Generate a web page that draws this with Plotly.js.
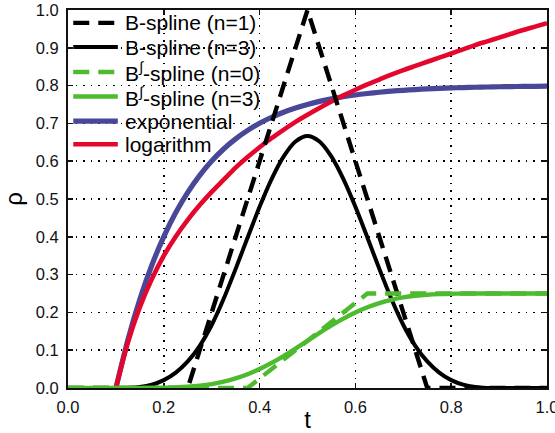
<!DOCTYPE html>
<html>
<head>
<meta charset="utf-8">
<script src="https://cdn.plot.ly/plotly-3.0.1.min.js"></script>
<style>html,body{margin:0;padding:0;background:#fff;}#chart{width:555px;height:433px;}</style>
</head>
<body>
<div id="chart"></div>
<script>
// ---- data ----
var t = [0,0.025,0.05,0.075,0.1,0.125,0.15,0.175,0.2,0.225,0.25,0.275,0.3,0.325,0.35,0.375,0.4,0.425,0.45,0.475,0.5,
         0.525,0.55,0.575,0.6,0.625,0.65,0.675,0.7,0.725,0.75,0.775,0.8,0.825,0.85,0.875,0.9,0.925,0.95,0.975,1.0];

var bSpline1 = [0,0,0,0,0,0,0,0,0,0,0,0.1,0.2,0.3,0.4,0.5,0.6,0.7,0.8,0.9,1.0,
                0.9,0.8,0.7,0.6,0.5,0.4,0.3,0.2,0.1,0,0,0,0,0,0,0,0,0,0,0];

var bSpline3 = [0,0,0,0,0,0.0003,0.0026,0.0088,0.0208,0.0407,0.0703,0.1117,0.1667,0.2361,0.3151,0.3982,0.4792,0.5525,0.612,0.652,0.6667,
                0.652,0.612,0.5525,0.4792,0.3982,0.3151,0.2361,0.1667,0.1117,0.0703,0.0407,0.0208,0.0088,0.0026,0.0003,0,0,0,0,0];

var biSpline0 = [0,0,0,0,0,0,0,0,0,0,0,0,0,0,0,0,0.025,0.05,0.075,0.1,0.125,
                 0.15,0.175,0.2,0.225,0.25,0.25,0.25,0.25,0.25,0.25,0.25,0.25,0.25,0.25,0.25,0.25,0.25,0.25,0.25,0.25];

var biSpline3 = [0,0,0,0,0,0,0,0.0002,0.0007,0.0016,0.0033,0.0061,0.0104,0.0167,0.0253,0.0364,0.0501,0.0663,0.0845,0.1043,0.125,
                 0.1457,0.1655,0.1837,0.1999,0.2136,0.2247,0.2333,0.2396,0.2439,0.2467,0.2484,0.2494,0.2498,0.25,0.25,0.25,0.25,0.25,0.25,0.25];

var exponential = [null,null,null,null,0,0.1275,0.2346,0.3247,0.4005,0.4642,0.5177,0.5627,0.6005,0.6323,0.659,0.6815,0.7004,0.7163,0.7296,0.7408,0.7502,
                   0.7582,0.7649,0.7705,0.7752,0.7791,0.7825,0.7853,0.7876,0.7896,0.7913,0.7926,0.7938,0.7948,0.7956,0.7963,0.7969,0.7974,0.7978,0.7982,0.7985];

var logarithm = [null,null,null,null,0,0.12,0.214,0.288,0.35,0.401,0.445,0.484,0.519,0.551,0.583,0.611,0.637,0.661,0.683,0.704,0.723,
                 0.741,0.758,0.774,0.789,0.803,0.816,0.829,0.841,0.852,0.863,0.874,0.885,0.896,0.907,0.917,0.927,0.937,0.947,0.956,0.965];

var seriesNames = ["B-spline (n=1)", "B-spline (n=3)", "B<sup>∫</sup>-spline (n=0)", "B<sup>∫</sup>-spline (n=3)", "exponential", "logarithm"];
var xTicks = [0, 0.2, 0.4, 0.6, 0.8, 1.0];
var yTicks = [0, 0.1, 0.2, 0.3, 0.4, 0.5, 0.6, 0.7, 0.8, 0.9, 1.0];

// ---- styles ----
var BLACK = "#000000", GREEN = "rgb(78,186,46)", BLUE = "rgb(73,71,152)", RED = "rgb(228,6,44)";
var DASH = "16px,9px";
var styles = [
  {color: BLACK, width: 4.4, dash: DASH, shape: "linear"},
  {color: BLACK, width: 4.0, dash: "solid", shape: "spline"},
  {color: GREEN, width: 4.4, dash: DASH, shape: "linear"},
  {color: GREEN, width: 4.4, dash: "solid", shape: "spline"},
  {color: BLUE, width: 5.2, dash: "solid", shape: "spline"},
  {color: RED, width: 4.6, dash: "solid", shape: "spline"}
];
var values = [bSpline1, bSpline3, biSpline0, biSpline3, exponential, logarithm];

// drawing order (bottom to top)
var order = [4, 5, 1, 0, 2, 3];
var traces = order.map(function (k) {
  return {
    x: t, y: values[k], type: "scatter", mode: "lines", name: seriesNames[k],
    line: {color: styles[k].color, width: styles[k].width, dash: styles[k].dash, shape: styles[k].shape, smoothing: 0.8},
    connectgaps: false, showlegend: false, hoverinfo: "skip"
  };
});

// manual legend (top-left, transparent background)
var legendRowsY = [0.966, 0.902, 0.836, 0.771, 0.706, 0.645];
var shapes = [], annotations = [];
seriesNames.forEach(function (name, k) {
  shapes.push({type: "line", xref: "paper", yref: "paper", x0: 0.011, x1: 0.104, y0: legendRowsY[k], y1: legendRowsY[k],
               line: {color: styles[k].color, width: styles[k].width, dash: styles[k].dash}});
  annotations.push({xref: "paper", yref: "paper", x: 0.114, y: legendRowsY[k], xanchor: "left", yanchor: "middle",
                    text: name, showarrow: false, font: {size: 21, color: "#000"}});
});

var axisCommon = {
  showline: true, linecolor: "#111", linewidth: 2, mirror: "ticks",
  ticks: "inside", ticklen: 5, tickwidth: 1.5, tickcolor: "#111",
  showgrid: true, gridcolor: "#000", gridwidth: 1.7, griddash: "1.7px,5.8px",
  zeroline: false, tickformat: ".1f", layer: "below traces",
  tickfont: {size: 16.5, color: "#111"}, ticklabeloverflow: "allow"
};

var layout = {
  width: 555, height: 433,
  margin: {l: 68, r: 8, t: 10, b: 45},
  paper_bgcolor: "#fff", plot_bgcolor: "#fff",
  font: {family: "Liberation Sans, Arial, sans-serif", color: "#000"},
  showlegend: false,
  xaxis: Object.assign({}, axisCommon, {range: [0, 1], tickmode: "array", tickvals: xTicks, ticklabelstandoff: 3,
    title: {text: "t", font: {size: 24}, standoff: 0}}),
  yaxis: Object.assign({}, axisCommon, {range: [0, 1], tickmode: "array", tickvals: yTicks, ticklabelstandoff: 4,
    title: {text: "ρ", font: {size: 24}, standoff: 6}}),
  shapes: shapes,
  annotations: annotations
};

Plotly.newPlot("chart", traces, layout, {staticPlot: true, displayModeBar: false});
</script>
</body>
</html>
